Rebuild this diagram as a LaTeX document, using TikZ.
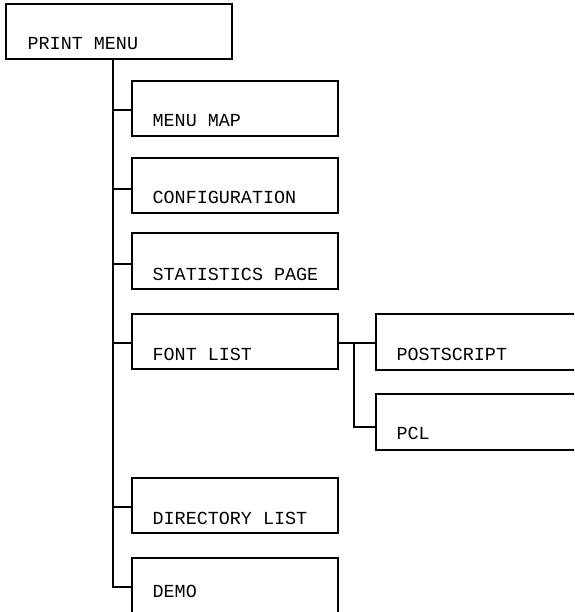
\documentclass[tikz,border=0pt]{standalone}
\usepackage{fontspec}
\setmonofont{Liberation Mono}
\begin{document}
\begin{tikzpicture}[x=1pt,y=-1pt,line width=1.3pt,
  menubox/.style={draw,rectangle,anchor=north west,inner sep=0pt,outer sep=0pt,
    minimum height=55pt},
  txt/.style={anchor=base west,inner sep=0pt,font=\ttfamily\fontsize{18.4}{20}\selectfont}]
\useasboundingbox (0,0) rectangle (574,612);
\clip (0,0) rectangle (574,612);
% boxes
\node[menubox,minimum width=226pt] (pm) at (6,4) {};
\node[menubox,minimum width=206pt] (mm) at (132,81) {};
\node[menubox,minimum width=206pt] (cf) at (132,158) {};
\node[menubox,minimum width=206pt,minimum height=56pt] (st) at (132,233) {};
\node[menubox,minimum width=206pt] (fl) at (132,314) {};
\node[menubox,minimum width=220pt,minimum height=56pt] (ps) at (376,314) {};
\node[menubox,minimum width=220pt,minimum height=56pt] (pcl) at (376,394) {};
\node[menubox,minimum width=206pt] (dl) at (132,478) {};
\node[menubox,minimum width=206pt,minimum height=70pt] (dm) at (132,558) {};
% texts
\node[txt] (tpm) at ([xshift=21pt,yshift=9pt]pm.south west) {PRINT MENU};
\node[txt] (tmm) at ([xshift=20pt,yshift=9pt]mm.south west) {MENU MAP};
\node[txt] (tcf) at ([xshift=20pt,yshift=9pt]cf.south west) {CONFIGURATION};
\node[txt] (tst) at ([xshift=20pt,yshift=9pt]st.south west) {STATISTICS PAGE};
\node[txt] (tfl) at ([xshift=20pt,yshift=9pt]fl.south west) {FONT LIST};
\node[txt] (tps) at ([xshift=20pt,yshift=10pt]ps.south west) {POSTSCRIPT};
\node[txt] (tpcl) at ([xshift=20pt,yshift=11pt]pcl.south west) {PCL};
\node[txt] (tdl) at ([xshift=20pt,yshift=9pt]dl.south west) {DIRECTORY LIST};
\node[txt] (tdm) at ([xshift=20pt,yshift=-39pt]dm.north west) {DEMO};
% connector points
\coordinate (t) at ([xshift=107pt]pm.south west);
\coordinate (mmc) at ([yshift=-29pt]mm.north west);
\coordinate (cfc) at ([yshift=-31pt]cf.north west);
\coordinate (stc) at ([yshift=-31pt]st.north west);
\coordinate (flc) at ([yshift=-29pt]fl.north west);
\coordinate (dlc) at ([yshift=-29pt]dl.north west);
\coordinate (dmc) at ([yshift=-29pt]dm.north west);
\coordinate (fle) at ([yshift=-29pt]fl.north east);
\coordinate (b) at ([xshift=16pt]fle);
\coordinate (pclc) at ([yshift=-33pt]pcl.north west);
% connectors
\draw (t) |- (dmc);
\draw (t |- mmc) -- (mmc);
\draw (t |- cfc) -- (cfc);
\draw (t |- stc) -- (stc);
\draw (t |- flc) -- (flc);
\draw (t |- dlc) -- (dlc);
\draw (fle) -- (ps.west |- fle);
\draw (b) |- (pclc);
\end{tikzpicture}
\end{document}
